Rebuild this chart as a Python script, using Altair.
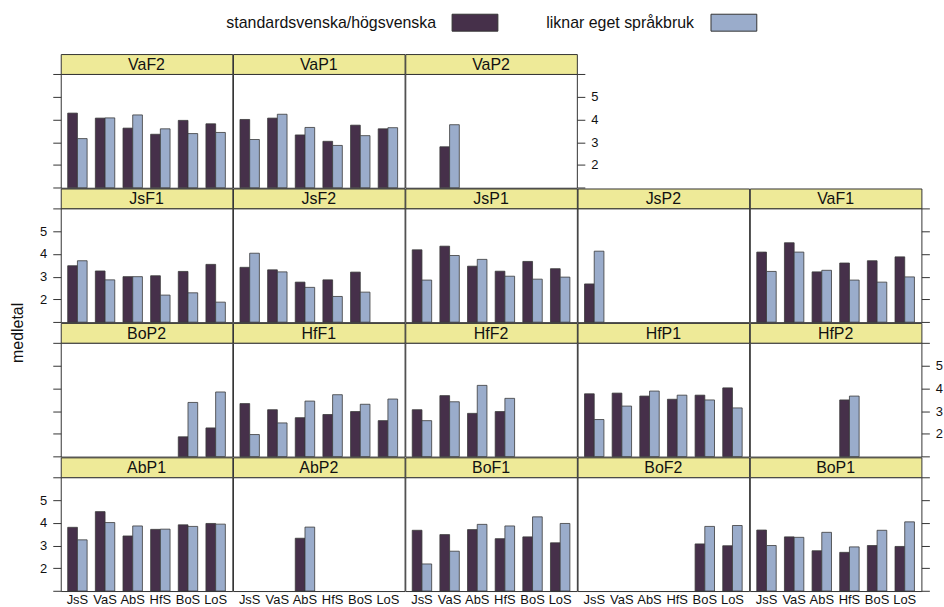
import altair as alt
import pandas as pd

# ---------------------------------------------------------------- data
categories = ["JsS", "VaS", "AbS", "HfS", "BoS", "LoS"]
series = ["standardsvenska/högsvenska", "liknar eget språkbruk"]

# panel order, top row first (the top row holds three panels)
layout_rows = [
    ["VaF2", "VaP1", "VaP2"],
    ["JsF1", "JsF2", "JsP1", "JsP2", "VaF1"],
    ["BoP2", "HfF1", "HfF2", "HfP1", "HfP2"],
    ["AbP1", "AbP2", "BoF1", "BoF2", "BoP1"],
]

N = None  # no answers for that group

VaF2_std = [4.28, 4.06, 3.62, 3.35, 3.96, 3.81]
VaF2_own = [3.16, 4.07, 4.20, 3.59, 3.38, 3.43]
VaP1_std = [4.00, 4.06, 3.32, 3.04, 3.75, 3.59]
VaP1_own = [3.12, 4.23, 3.65, 2.86, 3.29, 3.64]
VaP2_std = [N, 2.80, N, N, N, N]
VaP2_own = [N, 3.77, N, N, N, N]

JsF1_std = [3.48, 3.25, 3.00, 3.04, 3.23, 3.54]
JsF1_own = [3.70, 2.86, 3.00, 2.19, 2.29, 1.88]
JsF2_std = [3.41, 3.30, 2.76, 2.86, 3.20, N]
JsF2_own = [4.03, 3.21, 2.53, 2.13, 2.32, N]
JsP1_std = [4.18, 4.34, 3.46, 3.24, 3.67, 3.35]
JsP1_own = [2.85, 3.93, 3.76, 3.02, 2.89, 2.98]
JsP2_std = [2.68, N, N, N, N, N]
JsP2_own = [4.12, N, N, N, N, N]
VaF1_std = [4.08, 4.49, 3.21, 3.60, 3.70, 3.87]
VaF1_own = [3.23, 4.08, 3.28, 2.85, 2.76, 2.99]

BoP2_std = [N, N, N, N, 1.87, 2.26]
BoP2_own = [N, N, N, N, 3.38, 3.84]
HfF1_std = [3.33, 3.06, 2.71, 2.85, 2.98, 2.58]
HfF1_own = [1.97, 2.48, 3.44, 3.72, 3.30, 3.53]
HfF2_std = [3.06, 3.68, 2.90, 2.98, N, N]
HfF2_own = [2.58, 3.41, 4.13, 3.56, N, N]
HfP1_std = [3.76, 3.79, 3.66, 3.52, 3.70, 4.02]
HfP1_own = [2.63, 3.22, 3.88, 3.70, 3.49, 3.14]
HfP2_std = [N, N, N, 3.49, N, N]
HfP2_own = [N, N, N, 3.66, N, N]

AbP1_std = [3.80, 4.49, 3.42, 3.71, 3.91, 3.97]
AbP1_own = [3.25, 4.01, 3.86, 3.72, 3.84, 3.94]
AbP2_std = [N, N, 3.32, N, N, N]
AbP2_own = [N, N, 3.81, N, N, N]
BoF1_std = [3.67, 3.48, 3.70, 3.30, 3.38, 3.12]
BoF1_own = [2.19, 2.75, 3.93, 3.86, 4.26, 3.97]
BoF2_std = [N, N, N, N, 3.07, 2.99]
BoF2_own = [N, N, N, N, 3.84, 3.88]
BoP1_std = [3.68, 3.38, 2.77, 2.70, 3.00, 2.96]
BoP1_own = [3.00, 3.36, 3.58, 2.94, 3.67, 4.04]

panel_values = {
    "VaF2": (VaF2_std, VaF2_own), "VaP1": (VaP1_std, VaP1_own),
    "VaP2": (VaP2_std, VaP2_own),
    "JsF1": (JsF1_std, JsF1_own), "JsF2": (JsF2_std, JsF2_own),
    "JsP1": (JsP1_std, JsP1_own), "JsP2": (JsP2_std, JsP2_own),
    "VaF1": (VaF1_std, VaF1_own),
    "BoP2": (BoP2_std, BoP2_own), "HfF1": (HfF1_std, HfF1_own),
    "HfF2": (HfF2_std, HfF2_own), "HfP1": (HfP1_std, HfP1_own),
    "HfP2": (HfP2_std, HfP2_own),
    "AbP1": (AbP1_std, AbP1_own), "AbP2": (AbP2_std, AbP2_own),
    "BoF1": (BoF1_std, BoF1_own), "BoF2": (BoF2_std, BoF2_own),
    "BoP1": (BoP1_std, BoP1_own),
}

y_title = "medletal"

# ---------------------------------------------------------------- style
FONT = "Liberation Sans"
DARK = "#46304A"
LIGHT = "#9AACCB"
STRIP_FILL = "#EEEA98"
FRAME = "#333333"
PANEL_W = 172.3
STRIP_H = 20
PLOT_H = 114.25
NCOLS = 5
LABELLED_LEFT = {1, 3}    # rows whose left axis carries numbers
LABELLED_RIGHT = {0, 2}   # rows whose right axis carries numbers

one = pd.DataFrame({"k": [0]})


def panel_frame(name):
    std, own = panel_values[name]
    rows = []
    for cat, a, b in zip(categories, std, own):
        if a is not None:
            rows.append({"kategori": cat, "serie": series[0], "medeltal": a})
        if b is not None:
            rows.append({"kategori": cat, "serie": series[1], "medeltal": b})
    return pd.DataFrame(rows)


def legend_item(label, color, text_right, box_left, top):
    txt = (
        alt.Chart(pd.DataFrame({"lbl": [label]}))
        .mark_text(font=FONT, fontSize=16, color="#111111", align="right",
                   baseline="middle")
        .encode(x=alt.value(text_right), y=alt.value(top + 9), text="lbl:N")
    )
    box = (
        alt.Chart(one)
        .mark_rect(fill=color, stroke="#333333", strokeWidth=1)
        .encode(x=alt.value(box_left), x2=alt.value(box_left + 46),
                y=alt.value(top), y2=alt.value(top + 17))
    )
    return [txt, box]


def strip(name, with_legend=False):
    label = (
        alt.Chart(pd.DataFrame({"panel": [name]}))
        .mark_text(font=FONT, fontSize=16, color="#111111",
                   align="center", baseline="middle")
        .encode(x=alt.value(PANEL_W / 2), y=alt.value(STRIP_H / 2 + 1),
                text="panel:N")
    )
    layers = [label]
    if with_legend:
        # invisible corner mark fixing the page origin, then the key
        anchor = (
            alt.Chart(one)
            .mark_rect(opacity=0)
            .encode(x=alt.value(-60), x2=alt.value(-59), y=alt.value(-52),
                    y2=alt.value(-51))
        )
        layers = [anchor, label,
                  *legend_item(series[0], DARK, 377, 393, -40),
                  *legend_item(series[1], LIGHT, 636, 653, -40)]
    return alt.layer(*layers).properties(
        width=PANEL_W, height=STRIP_H,
        view=alt.ViewBackground(fill=STRIP_FILL, stroke=FRAME, strokeWidth=1))


def blank(height):
    return (
        alt.Chart(one)
        .mark_rect(opacity=0)
        .encode(x=alt.value(0), x2=alt.value(1), y=alt.value(0), y2=alt.value(1))
        .properties(width=PANEL_W, height=height,
                    view=alt.ViewBackground(strokeOpacity=0, fillOpacity=0))
    )


def y_axis(orient, labelled):
    kw = dict(orient=orient, values=[1, 2, 3, 4, 5, 6], domain=False,
              grid=False, tickSize=8, tickColor=FRAME, tickWidth=1,
              title=None)
    if labelled:
        kw.update(labelExpr="datum.value >= 2 && datum.value <= 5 ? datum.label : ''",
                  labelFont=FONT, labelFontSize=13, labelColor="#111111",
                  labelPadding=6)
    else:
        kw.update(labels=False)
    return alt.Axis(**kw)


def panel(name, r, c, ncols):
    if c == 0:
        yax = y_axis("left", r in LABELLED_LEFT)
    elif c == ncols - 1:
        yax = y_axis("right", r in LABELLED_RIGHT)
    else:
        yax = None

    if r == len(layout_rows) - 1:
        xax = alt.Axis(labelAngle=0, ticks=False, domain=False, grid=False,
                       labelFont=FONT, labelFontSize=13, labelColor="#111111",
                       labelPadding=3, title=None)
    else:
        xax = None

    bars = (
        alt.Chart(panel_frame(name))
        .mark_bar(stroke="#3a3a3a", strokeWidth=0.8)
        .encode(
            x=alt.X("kategori:N", sort=categories, title=None,
                    scale=alt.Scale(domain=categories, paddingInner=0.298,
                                    paddingOuter=0.252),
                    axis=xax),
            xOffset=alt.XOffset("serie:N", sort=series,
                                scale=alt.Scale(domain=series, paddingInner=0,
                                                paddingOuter=0)),
            y=alt.Y("medeltal:Q", title=None,
                    scale=alt.Scale(domain=[1, 6], zero=False, nice=False),
                    axis=yax),
            y2=alt.datum(1),
            color=alt.Color("serie:N", legend=None,
                            scale=alt.Scale(domain=series, range=[DARK, LIGHT])),
        )
    )

    view = alt.ViewBackground(fill="white", stroke=FRAME, strokeWidth=1)
    if r == 2 and c == 0:
        ylab = (
            alt.Chart(pd.DataFrame({"t": [y_title]}))
            .mark_text(font=FONT, fontSize=16, color="#111111", angle=270,
                       align="center", baseline="middle")
            .encode(x=alt.value(-43), y=alt.value(-10), text="t:N")
        )
        return alt.layer(bars, ylab).properties(width=PANEL_W, height=PLOT_H,
                                                 view=view)
    return bars.properties(width=PANEL_W, height=PLOT_H, view=view)


# ---------------------------------------------------------------- grid of panels
cells = []
for r, names in enumerate(layout_rows):
    pad = NCOLS - len(names)
    cells += [strip(n, with_legend=(r == 0 and c == 0))
              for c, n in enumerate(names)]
    cells += [blank(STRIP_H) for _ in range(pad)]
    cells += [panel(n, r, c, len(names)) for c, n in enumerate(names)]
    cells += [blank(PLOT_H) for _ in range(pad)]

chart = (
    alt.concat(*cells, columns=NCOLS, spacing=0, bounds="flush")
    .properties(padding={"left": 0, "top": 0, "right": 0, "bottom": 0},
                background="white")
    .configure_axis(grid=False)
)

chart.save("out.html", embed_options={"renderer": "svg", "actions": False})
